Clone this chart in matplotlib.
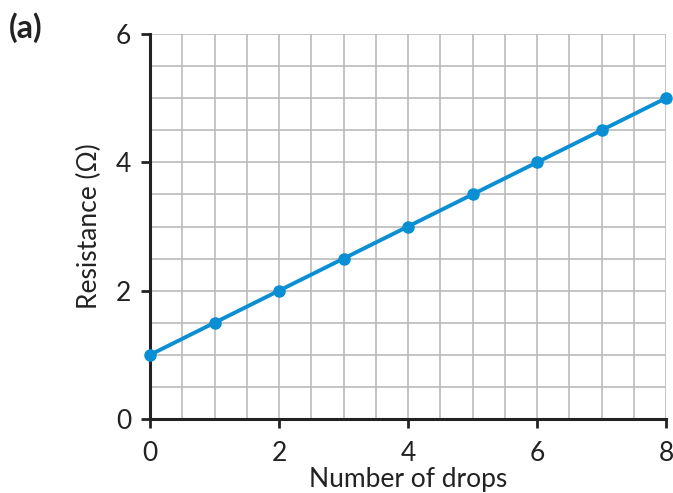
import numpy as np
import matplotlib.pyplot as plt

plt.rcParams['font.family'] = ['Lato', 'DejaVu Sans']

drops = [0, 1, 2, 3, 4, 5, 6, 7, 8]
resistance = [1.0, 1.5, 2.0, 2.5, 3.0, 3.5, 4.0, 4.5, 5.0]
xticks = [0, 2, 4, 6, 8]
yticks = [0, 2, 4, 6]

fig = plt.figure(figsize=(6.73, 4.93), dpi=100)
ax = fig.add_axes([150/673, 1 - 419/493, 516/673, 385/493])

ax.set_xlim(0, 8)
ax.set_ylim(0, 6)
# grid every half unit
for gx in np.arange(0.5, 8.01, 0.5):
    ax.axvline(gx, color='#bbbbbb', linewidth=1.2, zorder=0)
for gy in np.arange(0.5, 6.01, 0.5):
    ax.axhline(gy, color='#bbbbbb', linewidth=1.2, zorder=0)

ax.set_xticks(xticks)
ax.set_yticks(yticks)
ax.tick_params(which='major', length=6.5, width=2, color='#222222',
               labelsize=19, labelcolor='#222222')
ax.tick_params(axis='x', pad=9)
ax.tick_params(axis='y', pad=7)

for s in ['top', 'right']:
    ax.spines[s].set_visible(False)
for s in ['left', 'bottom']:
    ax.spines[s].set_linewidth(2.2)
    ax.spines[s].set_color('#222222')

ax.plot(drops, resistance, color='#0a8fd4', linewidth=2.8, marker='o',
        markersize=8, clip_on=False, zorder=5)

ax.set_xlabel('Number of drops', fontsize=19, color='#222222', labelpad=1)
ax.set_ylabel('Resistance (Ω)', fontsize=19, color='#222222', labelpad=10)

fig.text(9/673, 1 - 28/493, '(a)', fontsize=23, fontweight='bold',
         color='#222222', va='center')

fig.savefig('out.png', dpi=100)
